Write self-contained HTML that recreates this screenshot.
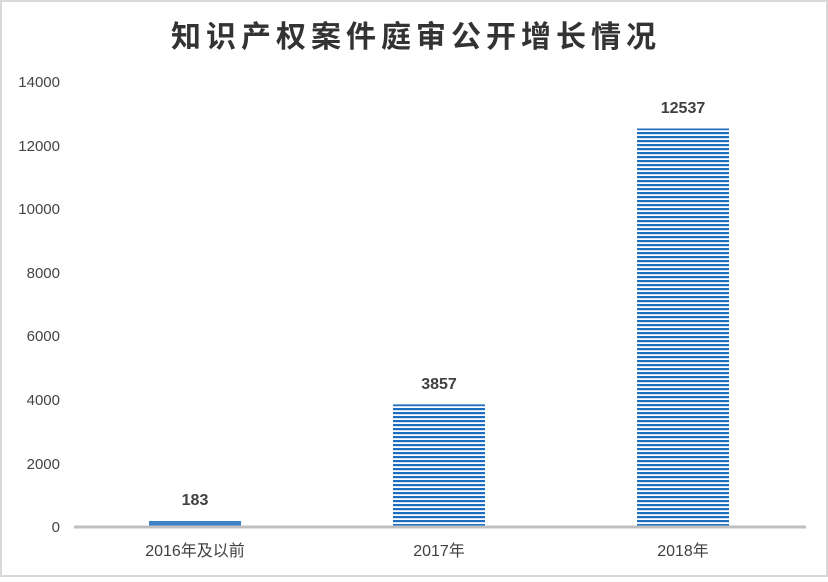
<!DOCTYPE html><html><head><style>body{margin:0;width:828px;height:577px;overflow:hidden;background:#fff}</style></head><body>
<svg width="828" height="577" xmlns="http://www.w3.org/2000/svg">
<defs><pattern id="p" width="4" height="4" patternUnits="userSpaceOnUse"><rect width="4" height="4" fill="#fff"/><rect width="4" height="2.2" fill="#1f6fc0"/></pattern></defs>
<rect x="1" y="1" width="826" height="575" fill="#fff" stroke="#d9d9d9" stroke-width="2"/>
<text x="416" y="47" text-anchor="middle" font-family="'Liberation Sans','Noto Sans CJK SC',sans-serif" font-size="30" font-weight="bold" fill="#333" letter-spacing="5">知识产权案件庭审公开增长情况</text>
<g font-family="'Liberation Sans',sans-serif" font-size="15" fill="#444" text-anchor="end">
<text x="60" y="532">0</text><text x="60" y="469">2000</text><text x="60" y="405">4000</text><text x="60" y="341">6000</text><text x="60" y="278">8000</text><text x="60" y="214">10000</text><text x="60" y="151">12000</text><text x="60" y="87">14000</text></g>
<rect x="149" y="521" width="92" height="6" fill="#3b82c8"/>
<rect x="393" y="404.4" width="92" height="122.6" fill="url(#p)"/>
<rect x="637" y="128.5" width="92" height="398.5" fill="url(#p)"/>
<line x1="74" y1="527" x2="806" y2="527" stroke="#bfbfbf" stroke-width="3"/>
<g font-family="'Liberation Sans',sans-serif" font-size="16" font-weight="bold" fill="#404040" text-anchor="middle">
<text x="195" y="505">183</text><text x="439" y="389">3857</text><text x="683" y="113">12537</text></g>
<g font-family="'Liberation Sans','Noto Sans CJK SC',sans-serif" font-size="16" fill="#404040" text-anchor="middle">
<text x="195" y="556">2016年及以前</text><text x="439" y="556">2017年</text><text x="683" y="556">2018年</text></g>
</svg></body></html>
